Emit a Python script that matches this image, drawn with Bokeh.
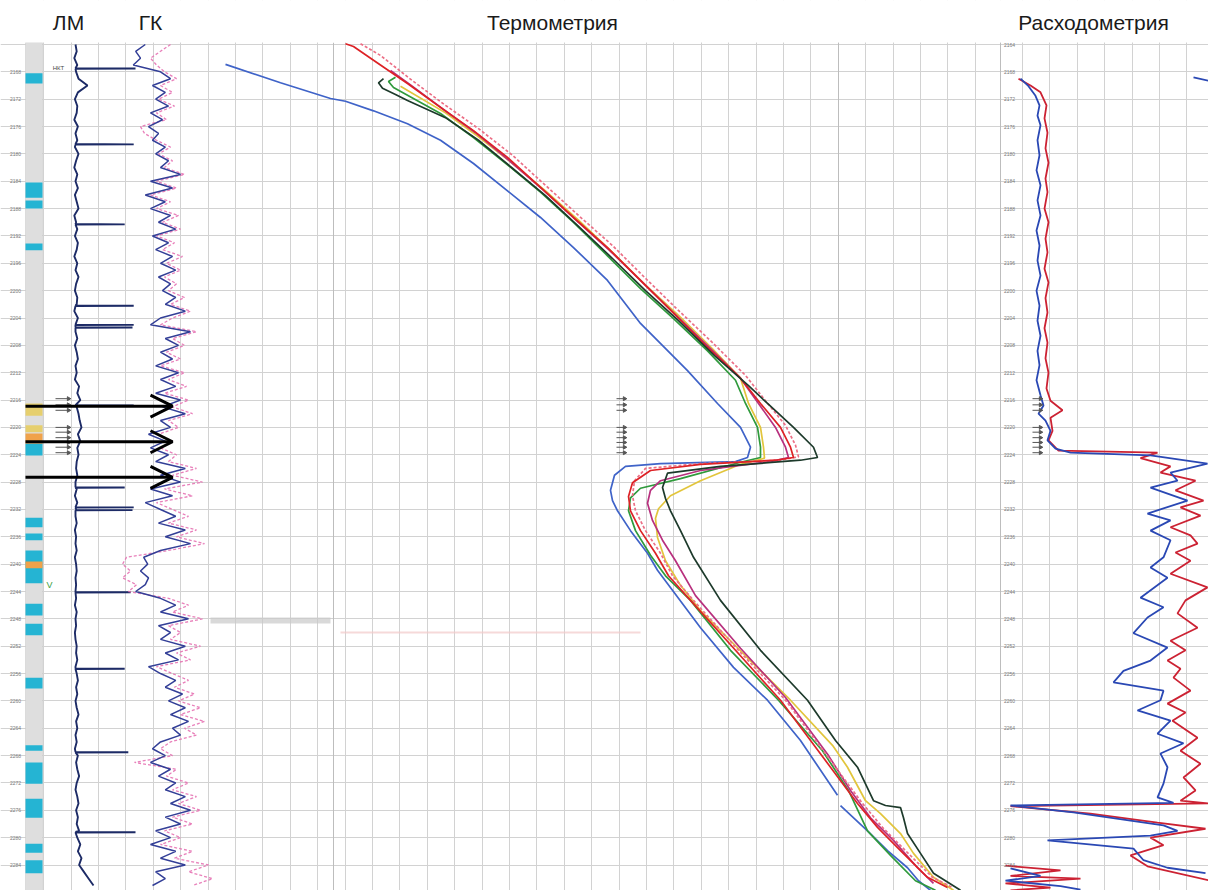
import math
import numpy as np
from bokeh.plotting import figure
from bokeh.models import Range1d, FixedTicker, ColumnDataSource, Arrow, OpenHead
from bokeh.core.properties import value
from bokeh.embed import file_html
from bokeh.resources import INLINE

NAN = float("nan")

# ------------------------------------------------------------------ data
track_titles = ["ЛМ", "ГК", "Термометрия", "Расходометрия"]
depth_ticks = list(range(2164, 2288, 4))

# LM (collar locator), relative units
lm_depth = list(range(2164, 2288))
lm_base = [0.00, 0.02, -0.02, 0.03, 0.01, 0.05, 0.20, 0.04, -0.01, 0.03,
           0.02, -0.02, 0.04, 0.00, 0.03, -0.01, 0.05, 0.01, -0.02, 0.03,
           0.00, 0.04, -0.01, 0.02, 0.05, -0.02, 0.01, 0.03, -0.01, 0.04,
           0.02, -0.02, 0.03, 0.00, 0.05, 0.01, -0.01, 0.03, 0.02, -0.02,
           0.04, 0.02, 0.00, 0.03, -0.01, 0.02, 0.04, 0.00, 0.02, -0.01,
           0.06, 0.03, 0.08, 0.02, 0.05, 0.07, 0.10, 0.04, 0.08, 0.03,
           0.05, 0.02, 0.01, 0.03, 0.00, 0.02, -0.01, 0.03, 0.01, 0.00,
           0.02, -0.01, 0.01, 0.00, 0.02, -0.01, 0.01, 0.02, 0.00, 0.01,
           0.00, 0.01, -0.01, 0.02, 0.00, 0.01, -0.01, 0.00, 0.02, 0.01,
           0.03, 0.00, 0.02, 0.04, 0.01, 0.03, 0.00, 0.02, 0.05, 0.01,
           0.03, 0.00, 0.02, -0.01, 0.04, 0.01, 0.03, 0.06, 0.02, 0.00,
           0.03, 0.05, 0.01, 0.04, 0.02, 0.06, 0.03, 0.08, 0.04, 0.10,
           0.06, 0.14, 0.22, 0.30]
collar_depth = [2167.5, 2178.6, 2190.3, 2202.2, 2205.0, 2205.4, 2216.8,
                2228.8, 2231.7, 2232.1, 2244.1, 2255.3, 2267.5, 2279.2]
collar_amp = [1.00, 0.97, 0.82, 0.97, 0.97, 0.95, 0.97,
              0.82, 0.97, 0.95, 0.92, 0.82, 0.88, 1.00]

# GK (gamma log), uR/h
gk_depth = list(range(2164, 2288))
gk_blue = [6.2, 3.8, 5.0, 3.2, 10.0, 12.5, 8.0, 11.2, 8.8, 12.0,
           7.5, 10.5, 7.0, 9.5, 8.0, 11.2, 8.8, 12.0, 10.0, 15.0,
           7.5, 13.0, 6.2, 11.2, 7.5, 12.5, 9.5, 13.8, 8.0, 12.0,
           8.8, 13.0, 10.0, 13.8, 9.5, 12.5, 10.5, 13.8, 11.2, 16.2,
           10.0, 7.5, 17.5, 11.2, 14.5, 10.0, 13.0, 8.8, 14.5, 10.0,
           13.8, 8.8, 15.0, 10.5, 16.2, 10.0, 12.5, 7.0, 11.2, 7.5,
           12.0, 8.8, 16.2, 10.0, 15.0, 7.5, 13.0, 6.2, 10.0, 13.8,
           9.5, 16.2, 11.2, 17.5, 10.0, 5.8, 6.8, 5.0, 7.0, 6.2,
           3.8, 10.0, 13.8, 10.0, 17.0, 9.5, 12.5, 10.0, 16.2, 11.2,
           14.5, 7.0, 10.0, 13.8, 11.2, 15.5, 12.0, 16.2, 12.5, 17.0,
           13.0, 15.0, 10.0, 8.0, 11.2, 7.5, 12.5, 9.5, 13.8, 11.2,
           16.2, 12.5, 17.5, 11.2, 15.0, 8.8, 12.5, 7.5, 13.8, 10.0,
           16.2, 8.8, 11.2, 8.0]
gk_pink = [12.5, 10.0, 7.5, 9.0, 11.0, 14.0, 10.0, 13.0, 9.5, 13.5,
           9.0, 11.5, 5.0, 6.0, 9.0, 12.5, 9.5, 13.0, 11.0, 16.0,
           9.0, 14.0, 7.5, 12.5, 9.0, 14.5, 10.5, 15.0, 9.0, 13.5,
           10.5, 15.5, 11.5, 15.0, 11.0, 14.0, 12.0, 16.0, 12.5, 17.5,
           13.0, 10.0, 19.0, 13.0, 16.0, 11.5, 15.0, 10.0, 16.0, 12.0,
           16.5, 11.0, 17.0, 13.0, 18.0, 12.0, 14.5, 9.5, 13.0, 10.0,
           14.0, 12.0, 19.0, 13.0, 20.5, 11.0, 18.0, 9.0, 13.0, 17.0,
           12.0, 19.0, 14.0, 21.0, 12.0, 1.5, 0.5, 2.5, 0.5, 4.0,
           2.0, 12.0, 17.0, 13.0, 20.5, 12.0, 15.0, 12.5, 20.0, 14.0,
           17.5, 9.0, 13.0, 17.0, 13.5, 18.5, 14.5, 20.0, 15.0, 21.0,
           16.0, 19.0, 12.5, 10.0, 13.0, 3.5, 14.0, 11.5, 17.0, 13.0,
           19.0, 14.5, 20.0, 13.0, 18.0, 11.0, 15.0, 10.0, 18.0, 13.5,
           22.0, 17.0, 23.0, 18.0]

# lithology column
litho_top = [2168.2, 2184.2, 2186.8, 2193.1, 2216.5, 2219.7, 2220.9, 2222.4, 2233.2, 2235.5,
             2238.0, 2239.6, 2245.8, 2248.7, 2256.6, 2266.5, 2269.0, 2274.3, 2280.9, 2283.3]
litho_bot = [2169.7, 2186.4, 2188.0, 2194.1, 2218.3, 2220.7, 2222.4, 2224.1, 2234.6, 2236.5,
             2242.8, 2240.6, 2247.5, 2250.4, 2258.2, 2267.3, 2272.1, 2277.1, 2282.2, 2285.2]
litho_type = ["коллектор", "коллектор", "коллектор", "коллектор", "перфорация", "перфорация",
              "работающий", "коллектор", "коллектор", "коллектор", "коллектор", "работающий",
              "коллектор", "коллектор", "коллектор", "коллектор", "коллектор", "коллектор",
              "коллектор", "коллектор"]

# perforation marks and inflow intervals
perf_depth = [2215.8, 2216.7, 2217.5, 2220.0, 2220.7, 2221.5, 2222.2, 2222.9, 2223.7]
inflow_depth = [2216.9, 2222.1, 2227.3]
tubing_shoe_depth = 2167.5
marker_v_depth = 2243.1

# thermometry, deg C
t_blue_depth = [2166.9, 2169.6, 2171.9, 2172.3, 2173.7, 2175.6, 2178.0, 2181.4, 2185.4, 2189.3,
                2193.7, 2198.5, 2204.8, 2211.7, 2216.5, 2220.0, 2222.9, 2224.4, 2225.0, 2225.3,
                2225.7, 2227.0, 2229.2, 2230.7, 2232.2, 2235.1, 2238.4, 2240.9, 2249.3, 2255.1,
                2259.9, 2265.8, 2273.8, NAN, 2275.3, 2279.0, 2281.9, 2284.4, 2286.3, 2287.7]
t_blue = [85.60, 86.70, 87.70, 88.00, 88.56, 89.24, 89.90, 90.56, 91.24, 91.90,
          92.56, 93.24, 93.90, 94.84, 95.44, 95.90, 96.10, 96.04, 95.80, 94.30,
          93.60, 93.38, 93.30, 93.34, 93.44, 93.70, 94.04, 94.24, 95.10, 95.76,
          96.44, 97.10, 97.84, NAN, 97.90, 98.44, 98.84, 99.24, 99.46, 99.70]

t_dark_depth = [2169.0, 2169.6, 2170.4, 2171.3, 2172.2, 2174.7, 2178.0, 2182.1, 2186.1, 2190.6,
                2195.3, 2200.0, 2204.4, 2209.5, 2213.9, 2216.5, 2220.0, 2222.9, 2224.4, 2224.8,
                2225.7, 2226.7, 2228.8, 2230.4, 2232.2, 2235.1, 2239.0, 2245.3, 2252.6, 2259.9,
                2265.8, 2269.7, 2274.6, 2275.3, 2275.6, 2277.1, 2279.4, 2282.3, 2285.2, 2287.7]
t_dark = [88.76, 88.66, 88.74, 89.00, 89.24, 90.00, 90.66, 91.34, 92.00, 92.66,
          93.34, 94.00, 94.66, 95.38, 96.06, 96.44, 96.96, 97.36, 97.44, 97.10,
          95.50, 94.44, 94.34, 94.40, 94.50, 94.70, 94.96, 95.50, 96.30, 97.24,
          97.80, 98.24, 98.56, 98.80, 99.10, 99.16, 99.24, 99.50, 99.76, 100.30]

t_green_depth = [2168.8, 2169.4, 2170.3, 2174.1, 2177.6, 2181.6, 2185.6, 2190.0, 2194.9, 2199.7,
                 2204.1, 2208.8, 2213.1, 2216.5, 2220.0, 2222.9, 2224.4, 2225.1, 2227.5, 2228.9,
                 2230.3, 2232.2, 2235.1, 2238.7, 2241.7, 2245.3, 2252.6, 2259.9, 2267.3, 2273.1,
                 2279.0, 2282.6, 2286.3, 2287.7]
t_green = [89.00, 88.86, 88.96, 89.90, 90.56, 91.24, 91.90, 92.56, 93.24, 93.90,
           94.56, 95.24, 95.80, 96.00, 96.24, 96.30, 96.30, 95.90, 94.70, 93.90,
           93.70, 93.66, 93.80, 94.10, 94.40, 94.90, 95.70, 96.66, 97.54, 98.06,
           98.44, 98.90, 99.40, 99.80]

t_yellow_depth = [2170.1, 2174.0, 2177.5, 2181.4, 2185.4, 2189.7, 2194.4, 2199.2, 2203.6, 2208.5,
                  2212.8, 2216.5, 2220.0, 2222.9, 2224.5, 2225.4, 2227.8, 2230.0, 2231.9, 2233.3,
                  2236.1, 2239.5, 2243.1, 2246.8, 2253.4, 2259.9, 2266.5, 2269.7, 2274.6, 2276.5,
                  2279.4, 2282.3, 2285.8, 2287.7]
t_yellow = [89.10, 90.00, 90.66, 91.34, 92.00, 92.66, 93.34, 94.00, 94.66, 95.34,
            95.90, 96.06, 96.30, 96.36, 96.38, 95.90, 95.10, 94.50, 94.26, 94.20,
            94.24, 94.40, 94.70, 95.10, 96.00, 96.90, 97.74, 98.04, 98.40, 98.70,
            99.10, 99.36, 99.76, 100.16]

t_red_depth = [2163.9, 2164.3, 2166.3, 2169.7, 2173.2, 2176.6, 2180.5, 2184.9, 2189.3, 2193.7,
               2198.5, 2203.3, 2208.0, 2212.8, 2216.5, 2220.0, 2222.9, 2224.4, 2224.8, 2225.4,
               2226.3, 2228.1, 2230.1, 2232.2, 2235.1, 2238.4, 2241.7, 2245.3, 2252.6, 2259.9,
               2269.7, 2275.0, 2278.5, 2281.9, 2285.8, 2287.3]
t_red = [88.00, 88.16, 88.56, 89.24, 89.90, 90.56, 91.24, 91.90, 92.56, 93.24,
         93.90, 94.56, 95.20, 95.90, 96.30, 96.70, 96.90, 96.96, 96.60, 95.10,
         94.10, 93.74, 93.66, 93.70, 93.90, 94.20, 94.46, 94.90, 95.80, 96.70,
         97.70, 98.24, 98.64, 99.10, 99.64, 100.04]

t_pink_depth = [2163.9, 2165.6, 2169.3, 2172.9, 2176.3, 2180.2, 2184.6, 2189.0, 2193.4, 2198.2,
                2202.9, 2207.6, 2212.4, 2216.1, 2219.7, 2222.6, 2224.3, 2224.8, 2225.3, 2226.0,
                2227.8, 2230.0, 2232.2, 2235.1, 2238.4, 2241.7, 2245.3, 2252.6, 2259.9, 2269.7,
                2275.0, 2278.5, 2281.9, 2285.8, 2287.3]
t_pink = [88.30, 88.70, 89.34, 90.00, 90.66, 91.34, 92.00, 92.66, 93.34, 94.00,
          94.66, 95.34, 96.00, 96.40, 96.80, 97.00, 97.06, 96.70, 95.10, 94.00,
          93.78, 93.74, 93.80, 94.00, 94.30, 94.54, 94.96, 95.86, 96.80, 97.80,
          98.34, 98.74, 99.20, 99.74, 100.14]

t_magenta_depth = [2167.8, 2169.9, 2173.4, 2176.9, 2181.0, 2185.2, 2189.6, 2194.1, 2198.8, 2203.5,
                   2208.2, 2212.8, 2216.5, 2220.0, 2222.9, 2224.4, 2225.0, 2226.3, 2227.8, 2229.2,
                   2231.1, 2233.6, 2236.5, 2239.5, 2244.6, 2252.3, 2259.5, 2268.0, 2273.1, 2277.1,
                   2280.4, 2284.4, 2286.7]
t_magenta = [88.90, 89.30, 89.94, 90.60, 91.28, 91.94, 92.60, 93.28, 93.94, 94.60,
             95.26, 95.90, 96.26, 96.60, 96.80, 96.86, 96.50, 95.10, 94.30, 94.10,
             94.04, 94.14, 94.34, 94.60, 95.00, 95.90, 96.80, 97.66, 98.10, 98.50,
             98.96, 99.44, 99.76]

# flowmeter, %
q_blue_depth = [2168.8, 2169.3, NAN,
                2169.0, 2170.1, 2171.5, 2172.9, 2174.4, 2175.8, 2178.0, 2180.2, 2182.4, 2184.6,
                2186.8, 2189.0, 2191.2, 2193.4, 2195.6, 2197.8, 2200.0, 2202.2, 2204.4, 2206.6,
                2208.8, 2210.9, 2213.1, 2215.3, 2216.8, 2218.0, 2219.0, 2220.5, 2221.9, 2223.1,
                2223.7, 2224.1, 2225.3, 2226.6, 2227.8, 2228.8, 2230.7, 2232.6, 2233.6, 2235.1,
                2236.5, 2239.0, 2240.5, 2242.0, 2244.9, 2246.3, 2247.8, 2250.1, 2252.2, 2254.1,
                2255.6, 2257.3, 2258.5, 2259.9, 2261.4, 2262.9, 2264.8, 2266.2, 2267.7, 2269.7,
                2272.1, 2274.1, 2274.9, 2275.3, 2276.3, 2277.5, 2278.2, 2279.0, 2279.7, 2280.4,
                2281.6, 2283.3, 2284.4, 2285.2, NAN,
                2284.5, 2285.6, 2286.3, 2287.1, 2287.6]
q_blue = [96.5, 104.0, NAN,
          10, 14, 17.5, 19.5, 18.5, 20, 18.5, 19.5, 18, 20,
          18.5, 20, 18, 19.5, 18.5, 20, 18, 19.5, 18.5, 20,
          18.5, 19.5, 18, 20, 21.5, 19, 22.5, 25, 23.5, 27.5,
          35, 75, 103.5, 85, 88.5, 75, 93.5, 73.5, 85, 75,
          85, 81.5, 75, 83.5, 70, 81.5, 73.5, 66.5, 83.5, 75,
          61.5, 56.5, 81.5, 80, 68.5, 85, 78.5, 91.5, 80, 83.5,
          81.5, 78.5, 86.5, 5, 36.5, 65, 81.5, 88.5, 75, 23.5,
          66.5, 71.5, 83.5, 102.5, NAN,
          5, 20, 2.5, 30, 40]

q_red_depth = [2169.0, 2170.0, 2171.0, 2172.9, 2174.8, 2176.9, 2179.2, 2181.3, 2183.6, 2185.6,
               2188.0, 2190.0, 2192.4, 2194.4, 2196.8, 2198.8, 2201.1, 2203.2, 2205.5, 2207.6,
               2209.9, 2212.0, 2214.3, 2216.1, 2217.5, 2218.6, 2220.5, 2221.9, 2223.4, 2223.7,
               2224.5, 2225.7, 2226.6, 2227.8, 2229.2, 2230.7, 2231.7, 2232.9, 2234.6, 2235.8,
               2237.0, 2238.3, 2239.5, 2241.4, 2243.4, 2245.3, 2247.2, 2249.3, 2251.2, 2252.6,
               2254.1, 2255.3, 2256.6, 2258.5, 2260.4, 2261.7, 2262.9, 2265.4, 2267.3, 2269.2,
               2271.2, 2273.1, 2274.6, 2275.0, 2275.4, 2276.5, 2277.8, 2278.7, 2280.0, 2281.1,
               2282.6, 2284.2, 2286.3, NAN,
               2284.1, 2284.8, 2285.6, 2286.0, 2286.7, 2287.3, 2287.7]
q_red = [9, 15, 20, 23, 22, 23.5, 22.5, 24, 22.5, 23.5,
         22, 24, 22.5, 23.5, 22, 24, 22.5, 23.5, 22, 23.5,
         22.5, 24, 23, 25, 31, 25, 26, 24, 29, 78.5,
         70, 85, 80, 97.5, 87.5, 101.5, 90, 100, 85, 95,
         98.5, 87.5, 95, 85, 103.5, 92.5, 88.5, 98.5, 85, 92.5,
         83.5, 90, 86.5, 95, 83.5, 92.5, 86, 98.5, 90, 100,
         91.5, 97.5, 90, 104, 5, 45, 78.5, 102.5, 75, 81.5,
         65, 73.5, 105, NAN,
         2.5, 30, 5, 40, 2.5, 25, 5]

# ------------------------------------------------------------------ layout / style
FIG_W, FIG_H = 1208, 890
PAGE_X0, PAGE_Y0 = 0, 0
DEPTH_REF, DEPTH_REF_PX, PX_PER_M = 2164.0, 44.0, 6.8375


def px_to_depth(py):
    return DEPTH_REF + (py - DEPTH_REF_PX) / PX_PER_M


def track_range(px_origin, v_origin, px_per_unit):
    s = v_origin + (PAGE_X0 - px_origin) / px_per_unit
    e = v_origin + (PAGE_X0 + FIG_W - px_origin) / px_per_unit
    return Range1d(s, e)


y_top = px_to_depth(PAGE_Y0)
y_bot = px_to_depth(PAGE_Y0 + FIG_H)
log_top = px_to_depth(42)

p = figure(width=FIG_W, height=FIG_H, output_backend="svg", toolbar_location=None,
           x_range=Range1d(PAGE_X0, PAGE_X0 + FIG_W), y_range=Range1d(y_bot, y_top),
           x_axis_location=None, y_axis_location=None, min_border=0,
           min_border_left=0, min_border_right=0, min_border_top=0, min_border_bottom=0)
p.outline_line_color = None
p.background_fill_color = "white"
p.border_fill_color = "white"

p.extra_x_ranges = {
    "lm": track_range(75, 0.0, 60.0),
    "gk": track_range(120, 0.0, 4.0),
    "temp": track_range(345, 88.0, 50.0),
    "flow": track_range(1000, 0.0, 2.0),
}

# grid
grid_x = [43.2 + 27.4 * k for k in range(35)] + [1000.0] + [1022.0 + 27.4 * k for k in range(7)]
p.xgrid.ticker = FixedTicker(ticks=grid_x)
p.ygrid.ticker = FixedTicker(ticks=depth_ticks)
for g in (p.xgrid, p.ygrid):
    g.grid_line_color = "#d2d2d2"
    g.grid_line_width = 1

# lithology column
p.quad(left=[25], right=[42], top=[log_top], bottom=[y_bot + 2],
       fill_color="#dedede", line_color="#c8c8c8", line_width=0.5)
litho_colors = {"коллектор": "#25b4d3", "перфорация": "#e6cf6e", "работающий": "#f0a24a"}
p.quad(left=25, right=42, top="top", bottom="bot",
       source=ColumnDataSource(dict(top=litho_top, bot=litho_bot,
                                    color=[litho_colors[t] for t in litho_type])),
       fill_color="color", line_color=None)

# track separators and scan marks
p.segment(x0=[333, 838, 1000], x1=[333, 838, 1000], y0=[log_top] * 3, y1=[y_bot + 2] * 3,
          line_color="#bdbdbd", line_width=1)
p.quad(left=[210], right=[330], top=[px_to_depth(617)], bottom=[px_to_depth(623)],
       fill_color="#c9c9c9", fill_alpha=0.7, line_color=None)
p.segment(x0=[340], x1=[640], y0=[px_to_depth(632)], y1=[px_to_depth(632)],
          line_color="#f2c9c9", line_width=2, line_alpha=0.7)

# header cover
p.quad(left=[PAGE_X0], right=[PAGE_X0 + FIG_W], top=[y_top - 1], bottom=[log_top],
       fill_color="white", line_color=None)

# LM curve
pts = list(zip(lm_depth, lm_base))
for d, a in zip(collar_depth, collar_amp):
    pts += [(d - 0.04, 0.0), (d, a), (d + 0.04, 0.0)]
pts.sort()
p.line([v for _, v in pts], [d for d, _ in pts], x_range_name="lm",
       line_color="#1d2b66", line_width=1.9)

# GK curves
p.line(gk_pink, gk_depth, x_range_name="gk", line_color="#e672b2", line_width=1.3,
       line_dash="3 2", line_alpha=0.9)
p.line(gk_blue, gk_depth, x_range_name="gk", line_color="#333f97", line_width=1.5)

# thermometry
therm = [
    (t_blue, t_blue_depth, "#3f63c8", None),
    (t_yellow, t_yellow_depth, "#e2c53c", None),
    (t_green, t_green_depth, "#2f9a3c", None),
    (t_magenta, t_magenta_depth, "#b8307e", None),
    (t_pink, t_pink_depth, "#ec6f86", "3 2"),
    (t_red, t_red_depth, "#dd2226", None),
    (t_dark, t_dark_depth, "#1d3a2b", None),
]
for xs, ys, col, dash in therm:
    kw = dict(line_dash=dash) if dash else {}
    p.line(np.array(xs, dtype=float), np.array(ys, dtype=float), x_range_name="temp",
           line_color=col, line_width=1.7, **kw)

# flowmeter
p.line(np.array(q_red, dtype=float), np.array(q_red_depth, dtype=float), x_range_name="flow",
       line_color="#cc2233", line_width=1.8)
p.line(np.array(q_blue, dtype=float), np.array(q_blue_depth, dtype=float), x_range_name="flow",
       line_color="#2a48b4", line_width=1.8)

# perforation marks in three tracks
for x0, x1 in ((55, 68), (616, 624), (1032, 1040)):
    n = len(perf_depth)
    p.segment(x0=[x0] * n, x1=[x1] * n, y0=perf_depth, y1=perf_depth,
              line_color="#555555", line_width=1)
    p.scatter(x=[x1] * n, y=perf_depth, marker="triangle", angle=-math.pi / 2, size=4,
              color="#555555")

# depth labels
lab = [str(d) for d in depth_ticks]
p.text(x=[15] * (len(lab) - 1), y=depth_ticks[1:], text=lab[1:], text_font=value("Liberation Sans"),
       text_font_size="5px", text_color="#7a7a7a", text_align="center", text_baseline="middle")
p.text(x=[1009] * len(lab), y=depth_ticks, text=lab, text_font=value("Liberation Sans"),
       text_font_size="5px", text_color="#7a7a7a", text_align="center", text_baseline="middle")

p.text(x=[58], y=[tubing_shoe_depth], text=["НКТ"], text_font=value("Liberation Sans"),
       text_font_size="6px", text_color="#444444", text_align="center", text_baseline="middle")
p.text(x=[49], y=[marker_v_depth], text=["V"], text_font=value("Liberation Sans"),
       text_font_size="9px", text_color="#3aa040", text_align="center", text_baseline="middle")

# headers
p.text(x=[68, 150, 552, 1093], y=[px_to_depth(22)] * 4, text=track_titles,
       text_font=value("Liberation Sans"), text_font_size="21px", text_color="#1a1a1a",
       text_align="center", text_baseline="middle")

# inflow arrows
asrc = ColumnDataSource(dict(x0=[25] * len(inflow_depth), x1=[172] * len(inflow_depth),
                             y=inflow_depth))
p.add_layout(Arrow(end=OpenHead(size=22, line_width=3, line_color="black"),
                   x_start="x0", y_start="y", x_end="x1", y_end="y", source=asrc,
                   line_width=3, line_color="black"))

open("out.html", "w").write(file_html(p, INLINE))
